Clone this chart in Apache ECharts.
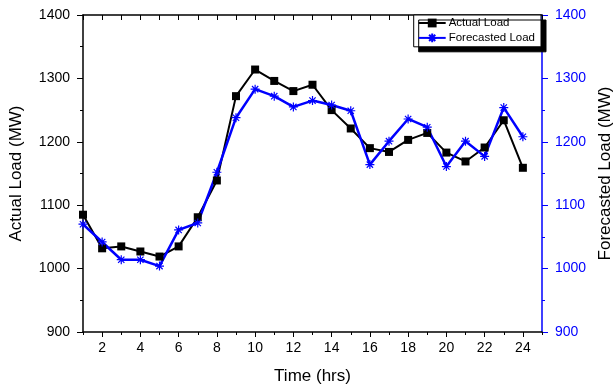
<!DOCTYPE html>
<html>
<head>
    <meta charset="utf-8">
    <title>Actual vs Forecasted Load</title>
    <script src="https://cdn.jsdelivr.net/npm/echarts@6/dist/echarts.min.js"></script>
</head>
<body style="margin:0">
    <div id="main" style="width:613px;height:387px;"></div>
    <script type="text/javascript">
        var hours = [1, 2, 3, 4, 5, 6, 7, 8, 9, 10, 11, 12, 13, 14, 15, 16, 17, 18, 19, 20, 21, 22, 23, 24];
        var actualLoad = [1085, 1032, 1035, 1027, 1019, 1035, 1081, 1139, 1272, 1314, 1296, 1280,
            1290, 1250, 1221, 1190, 1184, 1203, 1214, 1183, 1169, 1191, 1234, 1159];
        var forecastLoad = [1070, 1042, 1014, 1014, 1004, 1061, 1072, 1152, 1238, 1283, 1272, 1255,
            1265, 1258, 1249, 1164, 1201, 1236, 1223, 1161, 1201, 1177, 1254, 1208];
        var xLabels = [2, 4, 6, 8, 10, 12, 14, 16, 18, 20, 22, 24];

        var myChart = echarts.init(document.getElementById('main'));
        var font = 'Liberation Sans';
        // asterisk marker
        var star = 'path://M0,5L10,5M5,0L5,10M1.5,1.5L8.5,8.5M8.5,1.5L1.5,8.5';

        function pairs(vals) {
            return hours.map(function (h, i) { return [h, vals[i]]; });
        }
        function plain(v) { return String(v); }

        var option = {
            animation: false,
            textStyle: { fontFamily: font },
            grid: { left: 83, right: 71, top: 15, bottom: 55, containLabel: false, outerBoundsMode: 'none' },
            legend: {
                right: 72, top: 15,
                orient: 'vertical',
                itemGap: 2,
                itemWidth: 27, itemHeight: 11,
                padding: [2, 6, 2, 4],
                backgroundColor: '#fff',
                borderColor: '#000', borderWidth: 1,
                shadowColor: '#000', shadowBlur: 0, shadowOffsetX: 5, shadowOffsetY: 5,
                textStyle: { fontFamily: font, fontSize: 11.5, color: '#000', padding: [0, 0, 0, -2] },
                data: ['Actual Load', 'Forecasted Load']
            },
            xAxis: [{
                type: 'value', min: 1, max: 25, interval: 1,
                name: 'Time (hrs)', nameLocation: 'middle', nameGap: 36,
                nameTextStyle: { fontFamily: font, fontSize: 17, color: '#000' },
                axisLine: { lineStyle: { color: '#000', width: 1.5 } },
                axisTick: { customValues: xLabels, length: 5, lineStyle: { color: '#000' } },
                axisLabel: { customValues: xLabels, fontSize: 14, color: '#000', margin: 9, fontFamily: font },
                splitLine: { show: false }
            }, {
                type: 'value', min: 1, max: 25, interval: 1, position: 'bottom',
                axisLine: { show: false },
                axisTick: { length: 3, lineStyle: { color: '#000' } },
                axisLabel: { show: false },
                splitLine: { show: false }
            }, {
                type: 'value', min: 1, max: 25, interval: 1, position: 'top',
                axisLine: { lineStyle: { color: '#000', width: 1.5 } },
                axisTick: { inside: true, length: 5, lineStyle: { color: '#000' } },
                axisLabel: { show: false },
                splitLine: { show: false }
            }],
            yAxis: [{
                type: 'value', min: 900, max: 1400, interval: 100,
                name: 'Actual Load (MW)', nameLocation: 'middle', nameGap: 58,
                nameTextStyle: { fontFamily: font, fontSize: 17, color: '#000' },
                axisLine: { show: true, lineStyle: { color: '#000', width: 1.5 } },
                axisTick: { length: 6, lineStyle: { color: '#000' } },
                minorTick: { show: true, splitNumber: 2, length: 3, lineStyle: { color: '#000' } },
                axisLabel: { fontSize: 14, color: '#000', margin: 13, fontFamily: font, formatter: plain },
                splitLine: { show: false }
            }, {
                type: 'value', min: 900, max: 1400, interval: 100, position: 'right',
                name: 'Forecasted Load (MW)', nameLocation: 'middle', nameGap: 50,
                nameRotate: 90,
                nameTextStyle: { fontFamily: font, fontSize: 17, color: '#000' },
                axisLine: { show: true, lineStyle: { color: '#0000ff', width: 1.5 } },
                axisTick: { length: 6, lineStyle: { color: '#0000ff' } },
                minorTick: { show: true, splitNumber: 2, length: 3, lineStyle: { color: '#0000ff' } },
                axisLabel: { fontSize: 14, color: '#0000ff', margin: 13, fontFamily: font, formatter: plain },
                splitLine: { show: false }
            }],
            series: [{
                name: 'Actual Load',
                type: 'line',
                xAxisIndex: 0, yAxisIndex: 0,
                data: pairs(actualLoad),
                symbol: 'rect', symbolSize: 8,
                lineStyle: { color: '#000', width: 2 },
                itemStyle: { color: '#000' }
            }, {
                name: 'Forecasted Load',
                type: 'line',
                xAxisIndex: 0, yAxisIndex: 1,
                data: pairs(forecastLoad),
                symbol: star, symbolSize: 9,
                lineStyle: { color: '#0000ff', width: 2.5 },
                itemStyle: { color: 'none', borderColor: '#0000ff', borderWidth: 1.2 }
            }]
        };

        myChart.setOption(option);
    </script>
</body>
</html>
